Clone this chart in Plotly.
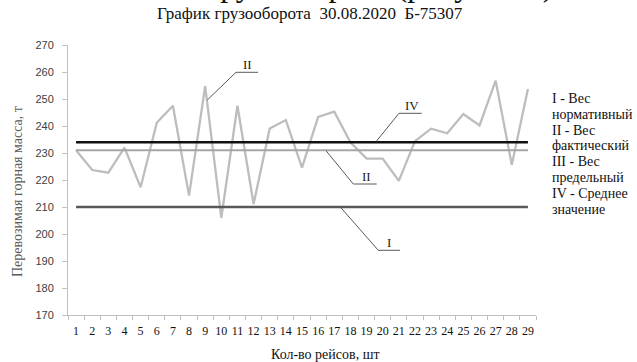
import plotly.graph_objects as go

# ---- data ----
trips = [str(i) for i in range(1, 30)]
actual_weight = [231, 223.7, 222.7, 232, 217.3, 241.2, 247.5, 214.2, 254.8, 206,
                 247.5, 211.1, 239.1, 242.2, 224.6, 243.4, 245.3, 234, 227.9, 227.9,
                 219.7, 234.4, 239, 237.3, 244.4, 240.2, 256.8, 225.6, 253.7]
normative_weight = 210
limit_weight = 231
mean_weight = 234
y_ticks = list(range(170, 271, 10))
legend_lines = ["I - Вес", "нормативный", "II - Вес", "фактический",
                "III - Вес", "предельный", "IV - Среднее", "значение"]
title_text = "График грузооборота&nbsp;&nbsp;30.08.2020&nbsp;&nbsp;Б-75307"
top_cut_text = "грузооборота (рисунок 3)"
y_title = "Перевозимая горная масса, т"
x_title = "Кол-во рейсов, шт"

# ---- geometry helpers (pixel -> paper) ----
W, H = 637, 362
PL, PR, PT, PB = 68, 536, 45, 315


def px(x):
    return (x - PL) / (PR - PL)


def py(y):
    return (PB - y) / (PB - PT)


SERIF = "Liberation Serif, Times New Roman, serif"
SANS = "Liberation Sans, Arial, sans-serif"

fig = go.Figure()
fig.add_trace(go.Scatter(x=trips, y=actual_weight, mode="lines",
                         line=dict(color="#bdbdbd", width=2.3), name="II"))
fig.add_trace(go.Scatter(x=trips, y=[normative_weight] * len(trips), mode="lines",
                         line=dict(color="#595959", width=2.6), name="I"))
fig.add_trace(go.Scatter(x=trips, y=[limit_weight] * len(trips), mode="lines",
                         line=dict(color="#a6a6a6", width=2.0), name="III"))
fig.add_trace(go.Scatter(x=trips, y=[mean_weight] * len(trips), mode="lines",
                         line=dict(color="#111111", width=2.6), name="IV"))

# leader lines with labels
leaders = [
    ("II", [(207.3, 100), (236, 72.3), (258, 72.3)], (247, 64)),
    ("IV", [(376, 141.7), (399, 113.3), (421.7, 113.3)], (411.7, 105)),
    ("II", [(326, 150.7), (353.3, 184), (376.7, 184)], (366, 176.5)),
    ("I", [(340, 206.7), (378.3, 250.3), (400, 250.3)], (389.3, 242.5)),
]
shapes = []
annotations = []
for label, pts, tpos in leaders:
    for (x0, y0), (x1, y1) in zip(pts[:-1], pts[1:]):
        shapes.append(dict(type="line", xref="paper", yref="paper",
                           x0=px(x0), y0=py(y0), x1=px(x1), y1=py(y1),
                           line=dict(color="#595959", width=1)))
    annotations.append(dict(text=label, xref="paper", yref="paper",
                            x=px(tpos[0]), y=py(tpos[1]), showarrow=False,
                            xanchor="center", yanchor="middle",
                            font=dict(family=SERIF, size=13, color="#222222")))

# right-hand legend text
for i, line in enumerate(legend_lines):
    annotations.append(dict(text=line, xref="paper", yref="paper",
                            x=px(550), y=py(98.3 + 15.85 * i), showarrow=False,
                            xanchor="left", yanchor="middle",
                            font=dict(family=SERIF, size=14, color="#111111")))

# title
annotations.append(dict(text=title_text, xref="paper", yref="paper",
                        x=px(309.5), y=py(14), showarrow=False,
                        xanchor="center", yanchor="middle",
                        font=dict(family=SERIF, size=17, color="#111111")))
# cut-off line of text at the very top
annotations.append(dict(text=top_cut_text, xref="paper", yref="paper",
                        x=px(205), y=py(5), showarrow=False,
                        xanchor="left", yanchor="bottom",
                        font=dict(family=SERIF, size=32, color="#111111")))
# axis titles
annotations.append(dict(text=y_title, xref="paper", yref="paper",
                        x=px(17), y=py(192), showarrow=False, textangle=-90,
                        xanchor="center", yanchor="middle",
                        font=dict(family=SERIF, size=14, color="#595959")))
annotations.append(dict(text=x_title, xref="paper", yref="paper",
                        x=px(325), y=py(354), showarrow=False,
                        xanchor="center", yanchor="middle",
                        font=dict(family=SERIF, size=14, color="#111111")))

fig.update_layout(
    width=W, height=H,
    margin=dict(l=PL, r=W - PR, t=PT, b=H - PB, pad=0),
    paper_bgcolor="white", plot_bgcolor="white",
    showlegend=False,
    shapes=shapes, annotations=annotations,
    xaxis=dict(type="category", tickson="boundaries", range=[-0.5, 28.5],
               ticks="outside", ticklen=4, tickcolor="#bfbfbf", tickwidth=1,
               showline=True, linecolor="#bfbfbf", linewidth=1,
               showgrid=False, zeroline=False, tickangle=0, ticklabelstandoff=5,
               tickfont=dict(family=SERIF, size=12, color="#111111")),
    yaxis=dict(range=[170, 270], tickvals=y_ticks,
               ticks="outside", ticklen=5, tickcolor="#bfbfbf", tickwidth=1,
               showline=True, linecolor="#bfbfbf", linewidth=1,
               showgrid=False, zeroline=False, ticklabelstandoff=6,
               tickfont=dict(family=SANS, size=11, color="#404040")),
)

fig.write_html("out.html",
               config={"displayModeBar": False},
               post_script="document.body.style.margin='0px';"
                           "document.body.style.overflow='hidden';")
